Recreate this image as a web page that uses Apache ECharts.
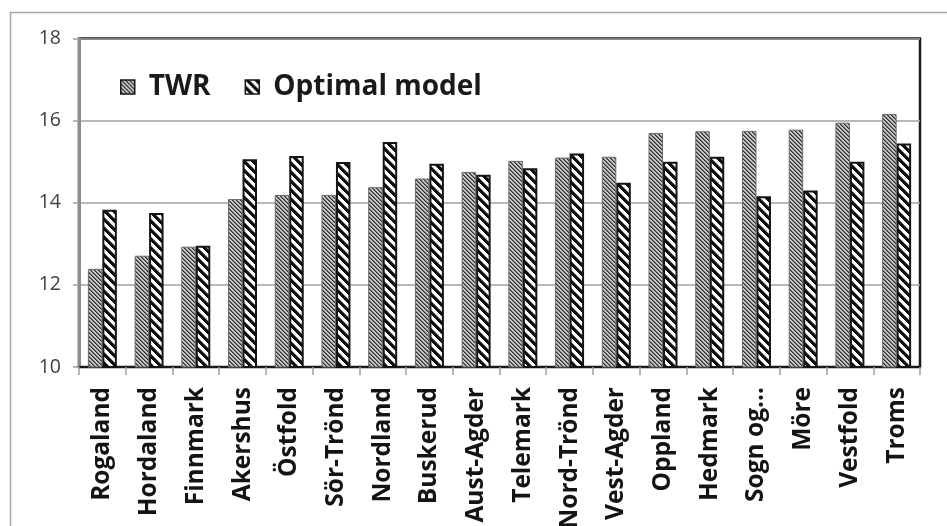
<!DOCTYPE html>
<html>
<head>
<meta charset="utf-8">
<script src="https://cdn.jsdelivr.net/npm/echarts@6/dist/echarts.min.js"></script>
<style>
html,body{margin:0;padding:0;background:#fff;}
#chart{width:947px;height:526px;}
</style>
</head>
<body>
<div id="chart"></div>
<script>
var categories = ['Rogaland','Hordaland','Finnmark','Akershus','Östfold','Sör-Trönd','Nordland','Buskerud','Aust-Agder','Telemark','Nord-Trönd','Vest-Agder','Oppland','Hedmark','Sogn og…','Möre','Vestfold','Troms'];
var twr =     [12.39,12.71,12.93,14.09,14.19,14.19,14.38,14.59,14.75,15.02,15.10,15.12,15.70,15.74,15.75,15.78,15.95,16.16];
var optimal = [13.83,13.75,12.95,15.06,15.14,14.99,15.48,14.95,14.68,14.84,15.20,14.49,15.00,15.12,14.16,14.30,15.00,15.44];
var yTicks = [10,12,14,16,18];

function makePattern(size, bg, fn){
  var c = document.createElement('canvas');
  c.width = size; c.height = size;
  var ctx = c.getContext('2d');
  var img = ctx.createImageData(size, size);
  for (var y=0;y<size;y++){
    for (var x=0;x<size;x++){
      var col = fn(x,y) || bg;
      var i=(y*size+x)*4;
      img.data[i]=col[0]; img.data[i+1]=col[1]; img.data[i+2]=col[2]; img.data[i+3]=255;
    }
  }
  ctx.putImageData(img,0,0);
  return c;
}
var twrPat = makePattern(4, [200,200,200], function(x,y){
  var d = ((x - y) % 4 + 4) % 4;
  if (d === 0) return [45,45,45];
  if (d === 1) return [110,110,110];
  return null;
});
var optPat = makePattern(9, [255,255,255], function(x,y){
  var d = ((x - y) % 9 + 9) % 9;
  if (d < 4) return [15,15,15];
  if (d === 4) return [120,120,120];
  return null;
});

var chart = echarts.init(document.getElementById('chart'), null, {renderer:'canvas'});
chart.setOption({
  backgroundColor:'#fff',
  animation:false,
  graphic:[{
    type:'rect', shape:{x:10.5,y:12.5,width:1000,height:600},
    style:{fill:null, stroke:'#a6a6a6', lineWidth:1.5}, z:-10
  }],
  grid:{left:79, right:27, top:38.5, bottom:159, containLabel:false, outerBoundsMode:'none',
    show:true, borderColor:'#1a1a1a', borderWidth:2.5, backgroundColor:'transparent'},
  legend:{
    left:115, top:66, itemWidth:14, itemHeight:14, itemGap:34, icon:'rect',
    itemStyle:{borderColor:'#1a1a1a', borderWidth:1.5},
    textStyle:{fontFamily:'Open Sans', fontWeight:'bold', fontSize:28, color:'#1a1a1a', lineHeight:32, padding:[0,0,0,9]},
    data:['TWR','Optimal model']
  },
  xAxis:{
    type:'category', data:categories,
    axisLine:{lineStyle:{color:'#1a1a1a', width:2}},
    axisTick:{show:true, length:8, lineStyle:{color:'#a0a0a0', width:1.5}},
    axisLabel:{rotate:90, margin:20, fontFamily:'Open Sans', fontWeight:'bold', fontSize:24.5, color:'#141414', interval:0}
  },
  yAxis:{
    type:'value', min:10, max:18, interval:2,
    axisLine:{show:true, lineStyle:{color:'#8c8c8c', width:3}},
    axisTick:{show:true, length:6, lineStyle:{color:'#a0a0a0', width:1.5}},
    axisLabel:{margin:18, fontFamily:'Open Sans', fontSize:19.5, color:'#404040',
      formatter:function(v){ return yTicks.indexOf(v) >= 0 ? String(v) : ''; }},
    splitLine:{lineStyle:{color:'#a0a0a0', width:1.5}}
  },
  series:[
    {name:'TWR', type:'bar', data:twr, barGap:'0%', barCategoryGap:'38%',
      itemStyle:{color:{image:twrPat, repeat:'repeat'}, borderColor:'#6a6a6a', borderWidth:1}},
    {name:'Optimal model', type:'bar', data:optimal,
      itemStyle:{color:{image:optPat, repeat:'repeat'}, borderColor:'#141414', borderWidth:2}}
  ]
});
</script>
</body>
</html>
